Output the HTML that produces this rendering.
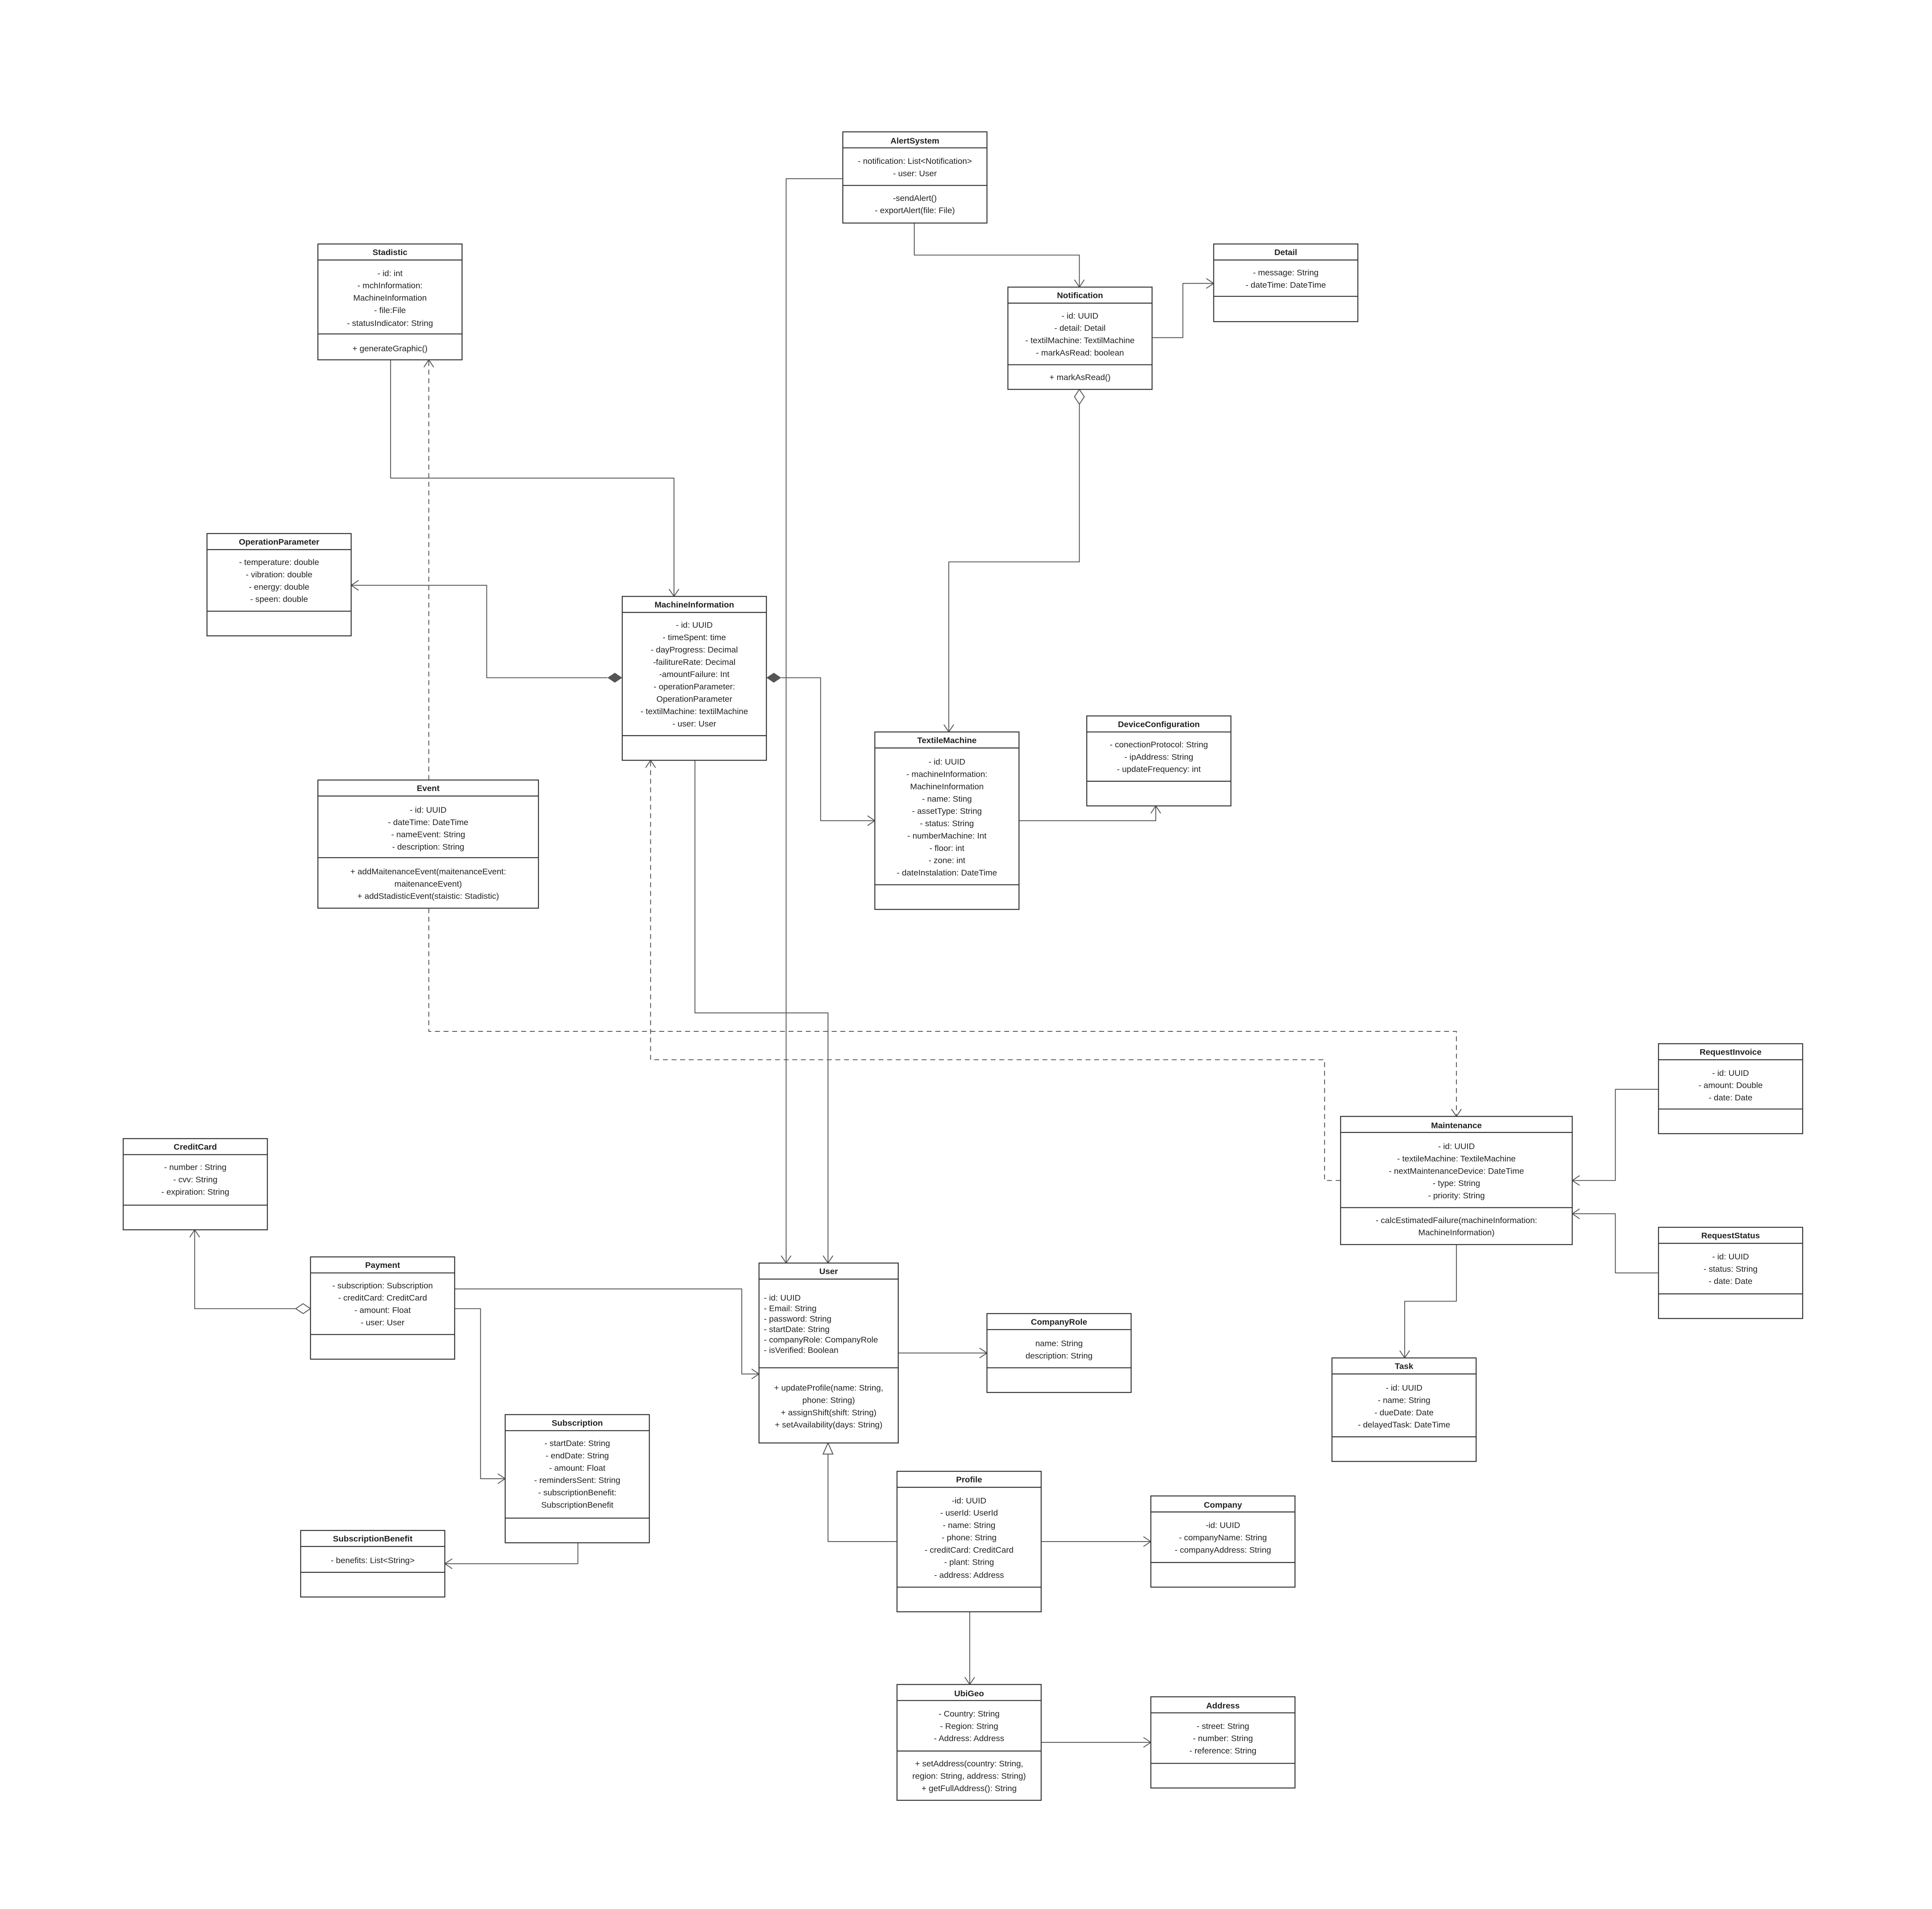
<!DOCTYPE html>
<html><head><meta charset="utf-8"><style>
html,body{margin:0;padding:0;background:#fff;}
svg{display:block;}
text{font-family:"Liberation Sans",sans-serif;font-size:6.8px;fill:#222;text-anchor:middle;}
.t{font-weight:bold;}
.l{text-anchor:start;}
.b{fill:#fff;stroke:#333;stroke-width:0.8;}
.d{stroke:#333;stroke-width:0.8;}
.c{fill:none;stroke:#555;stroke-width:0.7;stroke-linejoin:round;}
.dash{stroke-dasharray:4,3;}
</style></head><body>
<svg width="5009" height="4940" viewBox="0 0 1570.8 1549.2" preserveAspectRatio="none" xmlns="http://www.w3.org/2000/svg">
<defs>
<marker id="a" markerUnits="userSpaceOnUse" markerWidth="12" markerHeight="12" refX="8" refY="6" orient="auto">
<path d="M2,2 L8,6 L2,10" fill="none" stroke="#555" stroke-width="0.7"/></marker>
</defs>
<rect width="1570.8" height="1549.2" fill="#fff"/>

<!-- connectors -->
<path class="c" d="M684,145 H638 V1025" marker-end="url(#a)"/>
<path class="c" d="M742,181 V207 H876 V233" marker-end="url(#a)"/>
<path class="c" d="M935,274 H960 V230 H985" marker-end="url(#a)"/>
<path class="c" d="M876,328 V456 H770 V594" marker-end="url(#a)"/>
<polygon points="876,316 880,322 876,328 872,322" fill="#fff" stroke="#555" stroke-width="0.7"/>
<path class="c" d="M317,292 V388 H547 V484" marker-end="url(#a)"/>
<path class="c dash" d="M348,633 V292" marker-end="url(#a)"/>
<path class="c" d="M493,550 H395 V475 H285" marker-end="url(#a)"/>
<polygon points="505,550 499,546 493,550 499,554" fill="#555"/>
<path class="c" d="M634,550 H666 V666 H710" marker-end="url(#a)"/>
<polygon points="622,550 628,546 634,550 628,554" fill="#555"/>
<path class="c" d="M827,666 H938 V654" marker-end="url(#a)"/>
<path class="c" d="M564,617 V822 H672 V1025" marker-end="url(#a)"/>
<path class="c dash" d="M348,737 V837 H1182 V906" marker-end="url(#a)"/>
<path class="c dash" d="M1088,958 H1075 V860 H528 V617" marker-end="url(#a)"/>
<path class="c" d="M1346,884 H1311 V958 H1276" marker-end="url(#a)"/>
<path class="c" d="M1346,1033 H1311 V985 H1276" marker-end="url(#a)"/>
<path class="c" d="M1182,1010 V1056 H1140 V1102" marker-end="url(#a)"/>
<path class="c" d="M240,1062 H158 V998" marker-end="url(#a)"/>
<polygon points="252,1062 246,1058 240,1062 246,1066" fill="#fff" stroke="#555" stroke-width="0.7"/>
<path class="c" d="M369,1046 H602 V1115 H616" marker-end="url(#a)"/>
<path class="c" d="M369,1062 H390 V1200 H410" marker-end="url(#a)"/>
<path class="c" d="M469,1252 V1269 H361" marker-end="url(#a)"/>
<path class="c" d="M729,1098 H801" marker-end="url(#a)"/>
<path class="c" d="M728,1251 H672 V1180"/>
<polygon points="672,1171 676,1180 668,1180" fill="#fff" stroke="#555" stroke-width="0.7"/>
<path class="c" d="M845,1251 H934" marker-end="url(#a)"/>
<path class="c" d="M787,1308 V1367" marker-end="url(#a)"/>
<path class="c" d="M845,1414 H934" marker-end="url(#a)"/>

<!-- AlertSystem -->
<rect class="b" x="684" y="107" width="117" height="74"/>
<line class="d" x1="684" y1="120" x2="801" y2="120"/><line class="d" x1="684" y1="150.5" x2="801" y2="150.5"/>
<text class="t" x="742.5" y="116.5">AlertSystem</text>
<text x="742.5" y="133">- notification: List&lt;Notification&gt;</text><text x="742.5" y="143">- user: User</text>
<text x="742.5" y="163">-sendAlert()</text><text x="742.5" y="173">- exportAlert(file: File)</text>

<!-- Stadistic -->
<rect class="b" x="258" y="198" width="117" height="94"/>
<line class="d" x1="258" y1="211" x2="375" y2="211"/><line class="d" x1="258" y1="271" x2="375" y2="271"/>
<text class="t" x="316.5" y="207">Stadistic</text>
<text x="316.5" y="224">- id: int</text><text x="316.5" y="234">- mchInformation:</text><text x="316.5" y="244">MachineInformation</text><text x="316.5" y="254">- file:File</text><text x="316.5" y="264.5">- statusIndicator: String</text>
<text x="316.5" y="285">+ generateGraphic()</text>

<!-- Notification -->
<rect class="b" x="818" y="233" width="117" height="83"/>
<line class="d" x1="818" y1="246" x2="935" y2="246"/><line class="d" x1="818" y1="296" x2="935" y2="296"/>
<text class="t" x="876.5" y="242">Notification</text>
<text x="876.5" y="258.5">- id: UUID</text><text x="876.5" y="268.5">- detail: Detail</text><text x="876.5" y="278.5">- textilMachine: TextilMachine</text><text x="876.5" y="288.5">- markAsRead: boolean</text>
<text x="876.5" y="308.5">+ markAsRead()</text>

<!-- Detail -->
<rect class="b" x="985" y="198" width="117" height="63"/>
<line class="d" x1="985" y1="211" x2="1102" y2="211"/><line class="d" x1="985" y1="240.5" x2="1102" y2="240.5"/>
<text class="t" x="1043.5" y="207">Detail</text>
<text x="1043.5" y="223.5">- message: String</text><text x="1043.5" y="233.5">- dateTime: DateTime</text>

<!-- OperationParameter -->
<rect class="b" x="168" y="433" width="117" height="83"/>
<line class="d" x1="168" y1="446" x2="285" y2="446"/><line class="d" x1="168" y1="496" x2="285" y2="496"/>
<text class="t" x="226.5" y="442">OperationParameter</text>
<text x="226.5" y="458.5">- temperature: double</text><text x="226.5" y="468.5">- vibration: double</text><text x="226.5" y="478.5">- energy: double</text><text x="226.5" y="488.5">- speen: double</text>

<!-- MachineInformation -->
<rect class="b" x="505" y="484" width="117" height="133"/>
<line class="d" x1="505" y1="497" x2="622" y2="497"/><line class="d" x1="505" y1="597" x2="622" y2="597"/>
<text class="t" x="563.5" y="493">MachineInformation</text>
<text x="563.5" y="509.5">- id: UUID</text><text x="563.5" y="519.5">- timeSpent: time</text><text x="563.5" y="529.5">- dayProgress: Decimal</text><text x="563.5" y="539.5">-failitureRate: Decimal</text><text x="563.5" y="549.5">-amountFailure: Int</text><text x="563.5" y="559.5">- operationParameter:</text><text x="563.5" y="569.5">OperationParameter</text><text x="563.5" y="579.5">- textilMachine: textilMachine</text><text x="563.5" y="589.5">- user: User</text>

<!-- TextileMachine -->
<rect class="b" x="710" y="594" width="117" height="144"/>
<line class="d" x1="710" y1="607" x2="827" y2="607"/><line class="d" x1="710" y1="718" x2="827" y2="718"/>
<text class="t" x="768.5" y="603">TextileMachine</text>
<text x="768.5" y="620.5">- id: UUID</text><text x="768.5" y="630.5">- machineInformation:</text><text x="768.5" y="640.5">MachineInformation</text><text x="768.5" y="650.5">- name: Sting</text><text x="768.5" y="660.5">- assetType: String</text><text x="768.5" y="670.5">- status: String</text><text x="768.5" y="680.5">- numberMachine: Int</text><text x="768.5" y="690.5">- floor: int</text><text x="768.5" y="700.5">- zone: int</text><text x="768.5" y="710.5">- dateInstalation: DateTime</text>

<!-- DeviceConfiguration -->
<rect class="b" x="882" y="581" width="117" height="73"/>
<line class="d" x1="882" y1="594" x2="999" y2="594"/><line class="d" x1="882" y1="634" x2="999" y2="634"/>
<text class="t" x="940.5" y="590">DeviceConfiguration</text>
<text x="940.5" y="606.5">- conectionProtocol: String</text><text x="940.5" y="616.5">- ipAddress: String</text><text x="940.5" y="626.5">- updateFrequency: int</text>

<!-- Event -->
<rect class="b" x="258" y="633" width="179" height="104"/>
<line class="d" x1="258" y1="646" x2="437" y2="646"/><line class="d" x1="258" y1="696" x2="437" y2="696"/>
<text class="t" x="347.5" y="642">Event</text>
<text x="347.5" y="659.5">- id: UUID</text><text x="347.5" y="669.5">- dateTime: DateTime</text><text x="347.5" y="679.5">- nameEvent: String</text><text x="347.5" y="689.5">- description: String</text>
<text x="347.5" y="709.5">+ addMaitenanceEvent(maitenanceEvent:</text><text x="347.5" y="719.5">maitenanceEvent)</text><text x="347.5" y="729.5">+ addStadisticEvent(staistic: Stadistic)</text>

<!-- Maintenance -->
<rect class="b" x="1088" y="906" width="188" height="104"/>
<line class="d" x1="1088" y1="919" x2="1276" y2="919"/><line class="d" x1="1088" y1="980" x2="1276" y2="980"/>
<text class="t" x="1182" y="915.5">Maintenance</text>
<text x="1182" y="932.5">- id: UUID</text><text x="1182" y="942.5">- textileMachine: TextileMachine</text><text x="1182" y="952.5">- nextMaintenanceDevice: DateTime</text><text x="1182" y="962.5">- type: String</text><text x="1182" y="972.5">- priority: String</text>
<text x="1182" y="992.5">- calcEstimatedFailure(machineInformation:</text><text x="1182" y="1002.5">MachineInformation)</text>

<!-- RequestInvoice -->
<rect class="b" x="1346" y="847" width="117" height="73"/>
<line class="d" x1="1346" y1="860" x2="1463" y2="860"/><line class="d" x1="1346" y1="900" x2="1463" y2="900"/>
<text class="t" x="1404.5" y="856">RequestInvoice</text>
<text x="1404.5" y="873">- id: UUID</text><text x="1404.5" y="883">- amount: Double</text><text x="1404.5" y="893">- date: Date</text>

<!-- RequestStatus -->
<rect class="b" x="1346" y="996" width="117" height="74"/>
<line class="d" x1="1346" y1="1009" x2="1463" y2="1009"/><line class="d" x1="1346" y1="1050" x2="1463" y2="1050"/>
<text class="t" x="1404.5" y="1005">RequestStatus</text>
<text x="1404.5" y="1022">- id: UUID</text><text x="1404.5" y="1032">- status: String</text><text x="1404.5" y="1042">- date: Date</text>

<!-- Task -->
<rect class="b" x="1081" y="1102" width="117" height="84"/>
<line class="d" x1="1081" y1="1115" x2="1198" y2="1115"/><line class="d" x1="1081" y1="1166" x2="1198" y2="1166"/>
<text class="t" x="1139.5" y="1111">Task</text>
<text x="1139.5" y="1128.5">- id: UUID</text><text x="1139.5" y="1138.5">- name: String</text><text x="1139.5" y="1148.5">- dueDate: Date</text><text x="1139.5" y="1158.5">- delayedTask: DateTime</text>

<!-- CreditCard -->
<rect class="b" x="100" y="924" width="117" height="74"/>
<line class="d" x1="100" y1="937" x2="217" y2="937"/><line class="d" x1="100" y1="978" x2="217" y2="978"/>
<text class="t" x="158.5" y="933">CreditCard</text>
<text x="158.5" y="949.5">- number : String</text><text x="158.5" y="959.5">- cvv: String</text><text x="158.5" y="969.5">- expiration: String</text>

<!-- Payment -->
<rect class="b" x="252" y="1020" width="117" height="83"/>
<line class="d" x1="252" y1="1033" x2="369" y2="1033"/><line class="d" x1="252" y1="1083" x2="369" y2="1083"/>
<text class="t" x="310.5" y="1029">Payment</text>
<text x="310.5" y="1045.5">- subscription: Subscription</text><text x="310.5" y="1055.5">- creditCard: CreditCard</text><text x="310.5" y="1065.5">- amount: Float</text><text x="310.5" y="1075.5">- user: User</text>

<!-- User -->
<rect class="b" x="616" y="1025" width="113" height="146"/>
<line class="d" x1="616" y1="1038" x2="729" y2="1038"/><line class="d" x1="616" y1="1110" x2="729" y2="1110"/>
<text class="t" x="672.5" y="1034">User</text>
<text class="l" x="620" y="1055.5">- id: UUID</text><text class="l" x="620" y="1064">- Email: String</text><text class="l" x="620" y="1072.5">- password: String</text><text class="l" x="620" y="1081">- startDate: String</text><text class="l" x="620" y="1089.5">- companyRole: CompanyRole</text><text class="l" x="620" y="1098">- isVerified: Boolean</text>
<text x="672.5" y="1128.5">+ updateProfile(name: String,</text><text x="672.5" y="1138.5">phone: String)</text><text x="672.5" y="1148.5">+ assignShift(shift: String)</text><text x="672.5" y="1158.5">+ setAvailability(days: String)</text>

<!-- CompanyRole -->
<rect class="b" x="801" y="1066" width="117" height="64"/>
<line class="d" x1="801" y1="1079" x2="918" y2="1079"/><line class="d" x1="801" y1="1110" x2="918" y2="1110"/>
<text class="t" x="859.5" y="1075">CompanyRole</text>
<text x="859.5" y="1092.5">name: String</text><text x="859.5" y="1102.5">description: String</text>

<!-- Subscription -->
<rect class="b" x="410" y="1148" width="117" height="104"/>
<line class="d" x1="410" y1="1161" x2="527" y2="1161"/><line class="d" x1="410" y1="1232" x2="527" y2="1232"/>
<text class="t" x="468.5" y="1157">Subscription</text>
<text x="468.5" y="1173.5">- startDate: String</text><text x="468.5" y="1183.5">- endDate: String</text><text x="468.5" y="1193.5">- amount: Float</text><text x="468.5" y="1203.5">- remindersSent: String</text><text x="468.5" y="1213.5">- subscriptionBenefit:</text><text x="468.5" y="1223.5">SubscriptionBenefit</text>

<!-- SubscriptionBenefit -->
<rect class="b" x="244" y="1242" width="117" height="54"/>
<line class="d" x1="244" y1="1255" x2="361" y2="1255"/><line class="d" x1="244" y1="1276" x2="361" y2="1276"/>
<text class="t" x="302.5" y="1251">SubscriptionBenefit</text>
<text x="302.5" y="1268.5">- benefits: List&lt;String&gt;</text>

<!-- Profile -->
<rect class="b" x="728" y="1194" width="117" height="114"/>
<line class="d" x1="728" y1="1207" x2="845" y2="1207"/><line class="d" x1="728" y1="1288" x2="845" y2="1288"/>
<text class="t" x="786.5" y="1203">Profile</text>
<text x="786.5" y="1220">-id: UUID</text><text x="786.5" y="1230">- userId: UserId</text><text x="786.5" y="1240">- name: String</text><text x="786.5" y="1250">- phone: String</text><text x="786.5" y="1260">- creditCard: CreditCard</text><text x="786.5" y="1270">- plant: String</text><text x="786.5" y="1280.5">- address: Address</text>

<!-- Company -->
<rect class="b" x="934" y="1214" width="117" height="74"/>
<line class="d" x1="934" y1="1227" x2="1051" y2="1227"/><line class="d" x1="934" y1="1268" x2="1051" y2="1268"/>
<text class="t" x="992.5" y="1223.5">Company</text>
<text x="992.5" y="1240">-id: UUID</text><text x="992.5" y="1250">- companyName: String</text><text x="992.5" y="1260">- companyAddress: String</text>

<!-- UbiGeo -->
<rect class="b" x="728" y="1367" width="117" height="94"/>
<line class="d" x1="728" y1="1380" x2="845" y2="1380"/><line class="d" x1="728" y1="1421" x2="845" y2="1421"/>
<text class="t" x="786.5" y="1376.5">UbiGeo</text>
<text x="786.5" y="1393">- Country: String</text><text x="786.5" y="1403">- Region: String</text><text x="786.5" y="1413">- Address: Address</text>
<text x="786.5" y="1433.5">+ setAddress(country: String,</text><text x="786.5" y="1443.5">region: String, address: String)</text><text x="786.5" y="1453.5">+ getFullAddress(): String</text>

<!-- Address -->
<rect class="b" x="934" y="1377" width="117" height="74"/>
<line class="d" x1="934" y1="1390" x2="1051" y2="1390"/><line class="d" x1="934" y1="1431" x2="1051" y2="1431"/>
<text class="t" x="992.5" y="1386.5">Address</text>
<text x="992.5" y="1403">- street: String</text><text x="992.5" y="1413">- number: String</text><text x="992.5" y="1423">- reference: String</text>
</svg>
</body></html>
